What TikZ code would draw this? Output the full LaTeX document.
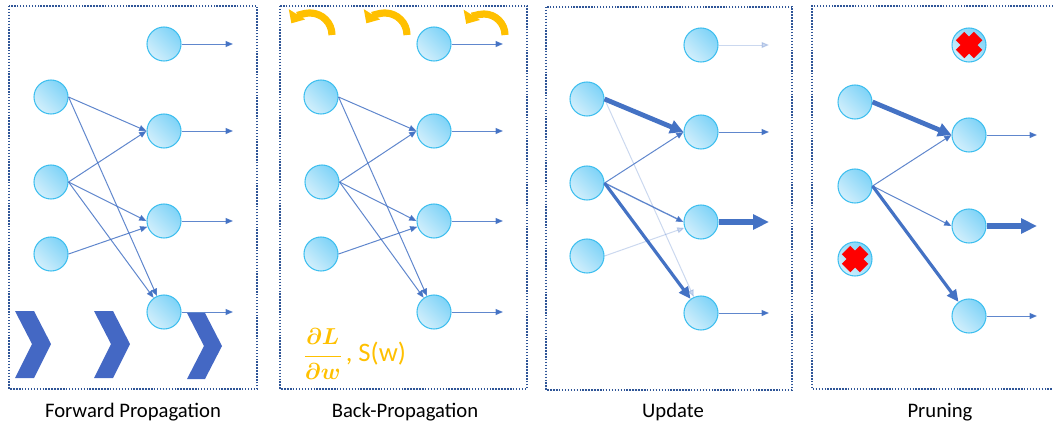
\documentclass[tikz,border=0pt]{standalone}
\usepackage{amsmath}
\usepackage{fontspec}
\setmainfont{Carlito}
\usetikzlibrary{arrows.meta}
\definecolor{edgeblue}{HTML}{4472C4}
\definecolor{nborder}{HTML}{3FBFEF}
\definecolor{ndark}{HTML}{7FD3F7}
\definecolor{nlight}{HTML}{D2EFFC}
\definecolor{framec}{HTML}{2F5597}
\definecolor{gold}{HTML}{FFC000}
\definecolor{chev}{HTML}{4468C4}
\tikzset{
  neuron/.style={circle, minimum size=25.5pt, inner sep=0pt, draw=nborder, line width=0.8pt,
     top color=ndark, bottom color=nlight, shading angle=-45},
  conn/.style={draw=edgeblue, draw opacity=0.85, line width=0.75pt, -{Triangle[length=5.5pt,width=4.5pt]}},
  faint/.style={conn, draw opacity=0.28, fill opacity=0.28},
  heavy/.style={draw=edgeblue, line width=2.4pt, -{Triangle[length=9pt,width=8pt]}},
  heavier/.style={draw=edgeblue, line width=3.6pt, -{Triangle[length=10pt,width=10pt]}},
  bigout/.style={draw=edgeblue, line width=3.8pt, -{Triangle[length=12pt,width=11pt]}},
  frame/.style={draw=framec, line width=1.2pt, dash pattern=on 1.1pt off 1.1pt},
  title/.style={font=\fontsize{15.5}{18}\selectfont, text=black},
  chevron/.style={fill=chev, draw=none},
  back/.style={draw=gold, line width=5.4pt, -{Triangle[length=8pt,width=14pt]}},
  cross/.style={draw=red, line width=9pt}
}
\begin{document}
\begin{tikzpicture}[x=0.75pt,y=-0.75pt]
\useasboundingbox (0,0) rectangle (1053,426);

% ---------------- frames and titles
\draw[frame] (9,6) rectangle (257,389);
\draw[frame] (280,6) rectangle (527,389);
\draw[frame] (546,7) rectangle (792,390);
\draw[frame] (1053,6) -- (812,6) -- (812,389) -- (1053,389);
\node[title] (t1) at (133,412) {Forward Propagation};
\node[title] (t2) at (405,412) {Back-Propagation};
\node[title] (t3) at (673,412) {Update};
\node[title] (t4) at (940,412) {Pruning};

% ---------------- panel 1: forward
\fill[chevron] (15,311) -- (34,311) -- (51,344) -- (34,378) -- (15,378) -- (32,344) -- cycle;
\fill[chevron] (94,311) -- (113,311) -- (130,344) -- (113,378) -- (94,378) -- (111,344) -- cycle;
\fill[chevron] (187,313) -- (205,313) -- (222,346) -- (205,379) -- (187,379) -- (204,346) -- cycle;

\node[neuron] (Fa1) at (51,97) {};
\node[neuron] (Fa2) at (51,182) {};
\node[neuron] (Fa3) at (51,254) {};
\node[neuron] (Fb1) at (164,44) {};
\node[neuron] (Fb2) at (164,131) {};
\node[neuron] (Fb3) at (164,221) {};
\node[neuron] (Fb4) at (164,312) {};
\coordinate (Fo1) at (233,44);
\coordinate (Fo2) at (233,131);
\coordinate (Fo3) at (233,221);
\coordinate (Fo4) at (233,312);
\draw[conn] (Fa1.east) -- (Fb2.west);
\draw[conn] (Fa1.east) -- (Fb4);
\draw[conn] (Fa2.east) -- (Fb2.west);
\draw[conn] (Fa2.east) -- (Fb3.west);
\draw[conn] (Fa2.east) -- (Fb4);
\draw[conn] (Fa3.east) -- (Fb3);
\draw[conn] (Fb1) -- (Fo1);
\draw[conn] (Fb2) -- (Fo2);
\draw[conn] (Fb3) -- (Fo3);
\draw[conn] (Fb4) -- (Fo4);

% ---------------- panel 2: back-propagation
\draw[back] (332,35) arc (0:-148:22);
\draw[back] (407,35) arc (0:-148:22);
\draw[back] (505,35) arc (0:-148:21);

\node[neuron] (Ba1) at (321,97) {};
\node[neuron] (Ba2) at (322,182) {};
\node[neuron] (Ba3) at (321,254) {};
\node[neuron] (Bb1) at (434,44) {};
\node[neuron] (Bb2) at (434,131) {};
\node[neuron] (Bb3) at (434,221) {};
\node[neuron] (Bb4) at (434,312) {};
\coordinate (Bo1) at (503,44);
\coordinate (Bo2) at (503,131);
\coordinate (Bo3) at (503,221);
\coordinate (Bo4) at (503,312);
\draw[conn] (Ba1.east) -- (Bb2.west);
\draw[conn] (Ba1.east) -- (Bb4);
\draw[conn] (Ba2.east) -- (Bb2.west);
\draw[conn] (Ba2.east) -- (Bb3.west);
\draw[conn] (Ba2.east) -- (Bb4);
\draw[conn] (Ba3.east) -- (Bb3);
\draw[conn] (Bb1) -- (Bo1);
\draw[conn] (Bb2) -- (Bo2);
\draw[conn] (Bb3) -- (Bo3);
\draw[conn] (Bb4) -- (Bo4);
\node[text=gold, anchor=west, inner sep=0pt] (grad) at (303,354)
  {\fontsize{16}{19}\selectfont$\boldsymbol{\dfrac{\partial L}{\partial w}}$\,{\fontsize{20}{24}\selectfont, S(w)}};

% ---------------- panel 3: update
\node[neuron] (Ua1) at (587,99) {};
\node[neuron] (Ua2) at (587,183) {};
\node[neuron] (Ua3) at (587,256) {};
\node[neuron] (Ub1) at (701,45) {};
\node[neuron] (Ub2) at (701,132) {};
\node[neuron] (Ub3) at (701,222) {};
\node[neuron] (Ub4) at (701,313) {};
\coordinate (Uo1) at (769,45);
\coordinate (Uo2) at (769,132);
\coordinate (Uo3) at (769,222);
\coordinate (Uo4) at (769,313);
\draw[heavier] (Ua1.east) -- (Ub2.west);
\draw[faint] (Ua1.east) -- (Ub4);
\draw[conn] (Ua2.east) -- (Ub2.west);
\draw[conn, line width=1pt] (Ua2.east) -- (Ub3.west);
\draw[heavy] (Ua2.east) -- (Ub4);
\draw[faint] (Ua3.east) -- (Ub3);
\draw[faint] (Ub1) -- (Uo1);
\draw[conn] (Ub2) -- (Uo2);
\draw[bigout] (Ub3) -- (Uo3);
\draw[conn] (Ub4) -- (Uo4);

% ---------------- panel 4: pruning
\node[neuron] (Pa1) at (855,102) {};
\node[neuron] (Pa2) at (855,186) {};
\node[neuron] (Pa3) at (855,259) {};
\node[neuron] (Pb1) at (969,45) {};
\node[neuron] (Pb2) at (969,135) {};
\node[neuron] (Pb3) at (969,226) {};
\node[neuron] (Pb4) at (969,316) {};
\coordinate (Po2) at (1037,135);
\coordinate (Po3) at (1037,226);
\coordinate (Po4) at (1037,316);
\draw[cross] ([shift={(-9,-9)}]Pb1.center) -- ([shift={(9,9)}]Pb1.center)
             ([shift={(-9,9)}]Pb1.center) -- ([shift={(9,-9)}]Pb1.center);
\draw[cross] ([shift={(-9,-9)}]Pa3.center) -- ([shift={(9,9)}]Pa3.center)
             ([shift={(-9,9)}]Pa3.center) -- ([shift={(9,-9)}]Pa3.center);
\draw[heavier] (Pa1.east) -- (Pb2.west);
\draw[conn] (Pa2.east) -- (Pb2.west);
\draw[conn] (Pa2.east) -- (Pb3.west);
\draw[heavy] (Pa2.east) -- (Pb4);
\draw[conn] (Pb2) -- (Po2);
\draw[bigout] (Pb3) -- (Po3);
\draw[conn] (Pb4) -- (Po4);
\end{tikzpicture}
\end{document}
